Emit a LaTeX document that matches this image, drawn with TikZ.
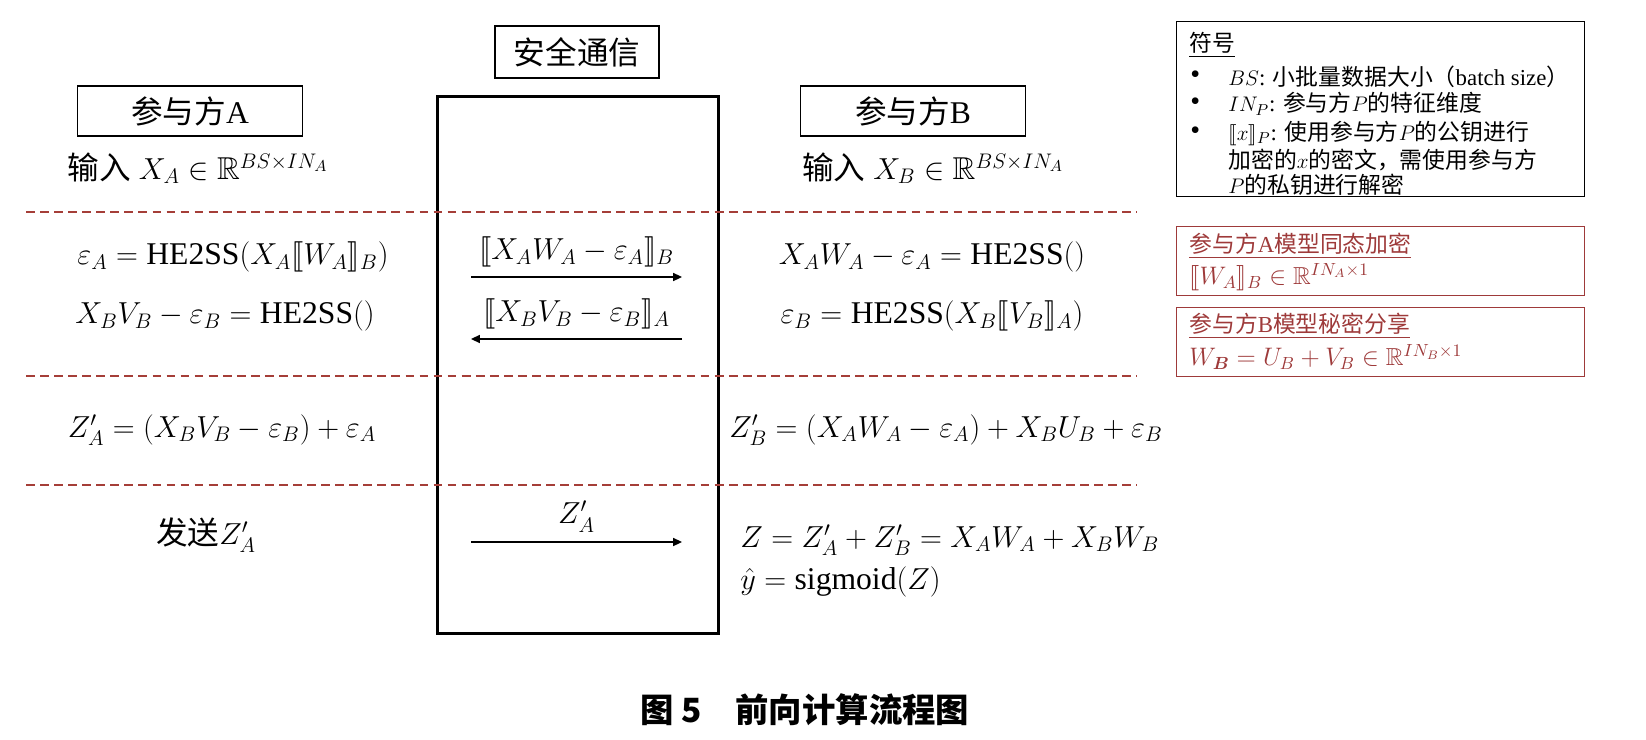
\documentclass[tikz,border=0pt]{standalone}
\usepackage{amsmath,amssymb,stmaryrd}
\usepackage{fontspec}
\setmainfont{Liberation Serif}
\newfontfamily\cjk{Noto Sans CJK SC}
\usetikzlibrary{arrows.meta, positioning}

\definecolor{sepred}{RGB}{165,62,56}
\definecolor{boxred}{RGB}{158,58,58}

\begin{document}
\begin{tikzpicture}[
      x=0.02cm, y=-0.02cm,
      party/.style={rectangle, draw, line width=0.8pt, minimum width=4.5cm, minimum height=1cm, font=\fontsize{18}{21}\selectfont},
      chan/.style={rectangle, draw, line width=1.7pt, minimum width=5.64cm, minimum height=10.76cm},
      body/.style={inner sep=0pt, font=\fontsize{18}{21}\selectfont},
      msg/.style={-{Triangle[length=5pt,width=4.5pt]}, line width=1pt},
      sep/.style={draw=sepred, dash pattern=on 5pt off 3pt, line width=1.3pt},
      legend/.style={rectangle, draw, line width=0.8pt, anchor=north west, minimum width=8.16cm, minimum height=3.5cm},
      redbox/.style={rectangle, draw=boxred, line width=0.8pt, anchor=north west, minimum width=8.16cm, minimum height=1.38cm},
      note/.style={anchor=west, inner sep=0pt, font=\fontsize{13}{15}\selectfont}
    ]
    \useasboundingbox (0,0) rectangle (1646,740);

    % channel between the two parties
    \node[chan] (ch) at (578,365) {};
    \node[party, minimum width=3.28cm, minimum height=1.04cm] (sc) at (577,52) {{\cjk 安全通信}};

    \node[party] (pa) at (190,111) {{\cjk 参与方}A};
    \node[party] (pb) at (913,111) {{\cjk 参与方}B};

    \node[body] (inA) at (198,168) {{\cjk 输入} $X_A \in \mathbb{R}^{BS\times IN_A}$};
    \node[body] (inB) at (933,168) {{\cjk 输入} $X_B \in \mathbb{R}^{BS\times IN_A}$};

    % stage separators
    \foreach \y in {212,376,485}
      \draw[sep] (26,\y) -- (1137,\y);

    % HE2SS
    \node[body] (epsA) at (233,257) {$\varepsilon_A = \mathrm{HE2SS}(X_A\llbracket W_A\rrbracket_B)$};
    \node[body] (encA) at (225,316) {$X_BV_B - \varepsilon_B = \mathrm{HE2SS}()$};
    \node[body] (encB) at (932,257) {$X_AW_A - \varepsilon_A = \mathrm{HE2SS}()$};
    \node[body] (epsB) at (932,316) {$\varepsilon_B = \mathrm{HE2SS}(X_B\llbracket V_B\rrbracket_A)$};

    \coordinate (m1s) at (471,277);
    \coordinate (m1e) at (682,277);
    \coordinate (m2s) at (682,339);
    \coordinate (m2e) at (471,339);
    \draw[msg] (m1s) -- node[body, above=5pt] {$\llbracket X_AW_A - \varepsilon_A\rrbracket_B$} (m1e);
    \draw[msg] (m2s) -- node[body, above=5pt] {$\llbracket X_BV_B - \varepsilon_B\rrbracket_A$} (m2e);

    % partial results
    \node[body] (zA) at (222,430) {$Z'_A = (X_BV_B - \varepsilon_B) + \varepsilon_A$};
    \node[body] (zB) at (946,430) {$Z'_B = (X_AW_A - \varepsilon_A) + X_BU_B + \varepsilon_B$};

    % result
    \node[body] (sendA) at (206,535) {{\cjk 发送}$Z'_A$};
    \coordinate (m3s) at (471,542);
    \coordinate (m3e) at (682,542);
    \draw[msg] (m3s) -- node[body, above=5pt] {$Z'_A$} (m3e);
    \node[body, anchor=west] (zsum) at (740,540) {$Z = Z'_A + Z'_B = X_AW_A + X_BW_B$};
    \node[body, anchor=west] (yhat) at (740,582) {$\hat{y} = \mathrm{sigmoid}(Z)$};

    % notation
    \node[legend] (sym) at (1176,21) {};
    \node[note] (symT) at (1189,45) {\underline{{\cjk 符号}}};
    \foreach \y [count=\i] in {77,104,133}
      \node[note, font=\fontsize{16}{16}\selectfont] (dot\i) at (1190,\y) {\textbullet};
    \node[note] (sym1) at (1228,77) {$BS$: {\cjk 小批量数据大小（}batch size{\cjk ）}};
    \node[note] (sym2) at (1228,104) {$IN_P$: {\cjk 参与方}$P${\cjk 的特征维度}};
    \node[note] (sym3) at (1228,133) {$\llbracket x\rrbracket_P$: {\cjk 使用参与方}$P${\cjk 的公钥进行}};
    \node[note] (sym4) at (1228,160) {{\cjk 加密的}$x${\cjk 的密文，需使用参与方}};
    \node[note] (sym5) at (1228,185) {$P${\cjk 的私钥进行解密}};

    \node[redbox] (heA) at (1176,226) {};
    \node[note, text=boxred] (heAt) at (1189,246) {\underline{{\cjk 参与方}A{\cjk 模型同态加密}}};
    \node[note, text=boxred, font=\fontsize{14}{16}\selectfont] (heAf) at (1189,277) {$\llbracket W_A\rrbracket_B \in \mathbb{R}^{IN_A\times 1}$};

    \node[redbox] (ssB) at (1176,307) {};
    \node[note, text=boxred] (ssBt) at (1189,326) {\underline{{\cjk 参与方}B{\cjk 模型秘密分享}}};
    \node[note, text=boxred, font=\fontsize{14}{16}\selectfont] (ssBf) at (1189,357) {$W_{\boldsymbol{B}} = U_B + V_B \in \mathbb{R}^{IN_B\times 1}$};

    \node[font=\cjk\bfseries\fontsize{19}{22}\selectfont] (cap) at (805,710) {图 5\hspace{1em}前向计算流程图};
  \end{tikzpicture}
\end{document}
